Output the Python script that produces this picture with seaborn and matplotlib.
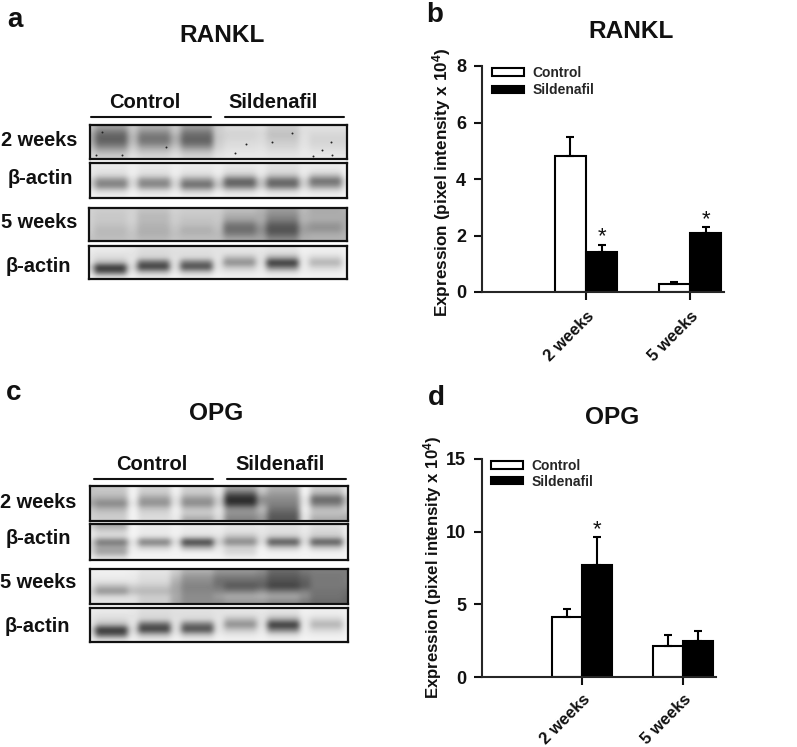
import matplotlib
matplotlib.use('Agg')
import matplotlib.pyplot as plt
from matplotlib.lines import Line2D
import numpy as np
import pandas as pd
import seaborn as sns

W, H = 797, 747

sns.set_style('ticks')
plt.rcParams['font.family'] = ['Liberation Sans', 'DejaVu Sans']
plt.rcParams['font.weight'] = 'bold'
plt.rcParams['mathtext.fontset'] = 'custom'
plt.rcParams['mathtext.bf'] = 'Liberation Sans:bold'

weeks = ['2 weeks', '5 weeks']
groups = ['Control', 'Sildenafil']

# bar heights and upper error
rankl_control = [4.83, 0.30]
rankl_sildenafil = [1.40, 2.10]
rankl_control_err = [0.67, 0.06]
rankl_sildenafil_err = [0.28, 0.20]
rankl_stars = [[False, False], [True, True]]

opg_control = [4.10, 2.10]
opg_sildenafil = [7.70, 2.50]
opg_control_err = [0.60, 0.80]
opg_sildenafil_err = [1.95, 0.65]
opg_stars = [[False, False], [True, False]]

# blots: grey levels read by eye, rows top to bottom,
# columns are edge, lane, gap, lane ... edge
rankl_2w = [
    [195, 160, 200, 175, 200, 155, 205, 220, 225, 205, 225, 225, 225],
    [175, 115, 190, 140, 190, 120, 205, 212, 215, 195, 222, 218, 218],
    [165, 95, 180, 115, 170, 100, 200, 212, 218, 195, 225, 212, 212],
    [170, 100, 185, 120, 175, 100, 205, 218, 220, 205, 225, 212, 212],
    [185, 135, 200, 160, 195, 140, 210, 222, 225, 212, 228, 218, 218],
    [205, 180, 215, 195, 215, 190, 220, 228, 230, 222, 232, 226, 226],
    [215, 205, 225, 215, 225, 212, 228, 232, 232, 230, 232, 232, 232],
]
rankl_actin_2w = [
    [235, 232, 238, 232, 238, 235, 238, 232, 235, 225, 235, 235, 240],
    [232, 228, 238, 228, 238, 230, 238, 226, 235, 222, 235, 230, 240],
    [230, 215, 235, 215, 235, 215, 232, 195, 228, 195, 230, 190, 238],
    [205, 140, 215, 140, 215, 140, 205, 95, 195, 105, 205, 105, 220],
    [205, 125, 215, 130, 210, 100, 190, 105, 190, 100, 205, 140, 225],
    [232, 210, 236, 215, 232, 195, 230, 208, 230, 208, 232, 220, 238],
    [242, 238, 244, 238, 242, 238, 242, 238, 242, 238, 242, 240, 244],
]
rankl_5w = [
    [210, 205, 210, 195, 210, 205, 205, 190, 180, 155, 185, 170, 178],
    [208, 200, 210, 185, 205, 200, 200, 175, 172, 140, 180, 172, 172],
    [208, 200, 210, 185, 205, 195, 200, 160, 172, 125, 180, 172, 172],
    [205, 195, 205, 180, 200, 190, 195, 120, 155, 95, 165, 150, 172],
    [205, 185, 200, 175, 195, 175, 190, 105, 140, 80, 155, 145, 172],
    [200, 185, 195, 175, 190, 180, 185, 125, 150, 95, 165, 170, 178],
    [195, 190, 195, 185, 195, 190, 190, 165, 165, 135, 175, 178, 182],
]
actin_5w = [
    [238, 235, 232, 222, 225, 225, 228, 230, 232, 228, 240, 238, 242],
    [232, 228, 228, 218, 222, 222, 226, 225, 228, 222, 238, 236, 240],
    [230, 218, 228, 210, 225, 215, 228, 185, 225, 165, 232, 210, 238],
    [228, 185, 225, 100, 222, 115, 225, 135, 222, 45, 232, 175, 236],
    [205, 45, 212, 55, 220, 70, 226, 195, 230, 120, 234, 212, 238],
    [222, 90, 226, 180, 230, 190, 234, 230, 236, 218, 238, 236, 240],
    [238, 228, 240, 236, 242, 238, 242, 240, 242, 240, 244, 242, 246],
]
opg_2w = [
    [195, 200, 240, 210, 240, 208, 232, 165, 205, 175, 242, 205, 230],
    [195, 195, 242, 200, 238, 200, 228, 95, 185, 155, 242, 180, 225],
    [180, 170, 238, 160, 225, 155, 205, 40, 140, 140, 228, 100, 185],
    [160, 130, 228, 140, 222, 135, 200, 50, 150, 130, 228, 120, 190],
    [195, 175, 240, 195, 238, 190, 225, 140, 185, 115, 238, 185, 210],
    [205, 200, 242, 215, 238, 205, 225, 150, 170, 95, 232, 195, 190],
    [210, 205, 242, 220, 232, 170, 212, 130, 150, 85, 225, 170, 170],
]
opg_actin_2w = [
    [205, 170, 242, 232, 238, 232, 235, 228, 230, 222, 232, 222, 236],
    [232, 215, 244, 236, 242, 235, 236, 225, 230, 225, 232, 215, 236],
    [230, 218, 242, 225, 236, 215, 225, 190, 222, 200, 225, 200, 232],
    [205, 105, 222, 110, 215, 45, 200, 125, 215, 65, 215, 70, 225],
    [210, 170, 235, 205, 235, 170, 230, 210, 238, 195, 235, 195, 235],
    [212, 155, 240, 240, 244, 240, 238, 212, 244, 240, 244, 240, 244],
    [238, 225, 245, 245, 245, 245, 244, 240, 245, 244, 245, 244, 245],
]
opg_5w = [
    [238, 240, 238, 228, 205, 175, 150, 150, 140, 105, 120, 125, 125],
    [236, 236, 234, 222, 190, 150, 125, 125, 120, 90, 105, 120, 125],
    [230, 228, 230, 218, 175, 140, 110, 105, 105, 80, 95, 120, 125],
    [222, 185, 205, 200, 165, 130, 115, 85, 95, 65, 90, 120, 120],
    [205, 140, 185, 180, 165, 135, 135, 130, 145, 125, 130, 115, 110],
    [222, 218, 222, 205, 170, 140, 160, 175, 180, 170, 145, 115, 105],
    [230, 228, 225, 205, 165, 140, 140, 150, 150, 135, 120, 105, 100],
]

# dust specks on the RANKL 2 weeks membrane, in lane and row units
speck_x = [0.55, 0.26, 1.48, 3.54, 7.29, 8.49, 9.43, 6.78, 11.27, 10.83, 11.3, 10.41]
speck_y = [0.86, 5.6, 5.6, 4.12, 3.37, 3.1, 1.2, 5.28, 3.03, 4.73, 5.6, 5.96]

blots_a = [rankl_2w, rankl_actin_2w, rankl_5w, actin_5w]
blots_c = [opg_2w, opg_actin_2w, opg_5w, actin_5w]
boxes_a = [(90, 125, 347, 159), (90, 163, 347, 198), (89, 208, 347, 241), (89, 246, 347, 279)]
boxes_c = [(90, 486, 348, 521), (90, 524, 348, 560), (90, 569, 348, 604), (90, 608, 348, 642)]
row_labels = ['2 weeks', 'β-actin', '5 weeks', 'β-actin']

# lanes are about three times as wide as the gaps between them
col_repeat = [1, 6, 2, 6, 2, 6, 2, 6, 2, 6, 2, 6, 1]

fig = plt.figure(figsize=(W / 100, H / 100), dpi=100, facecolor='white')


def px_axes(x0, y0, x1, y1):
    return fig.add_axes([x0 / W, 1 - y1 / H, (x1 - x0) / W, (y1 - y0) / H])


def px_text(x, y, s, size, **kw):
    fig.text(x / W, 1 - y / H, s, fontsize=size, fontweight='bold', color='#111111',
             ha=kw.pop('ha', 'center'), va=kw.pop('va', 'center'), **kw)


def px_line(x0, x1, y):
    fig.add_artist(Line2D([x0 / W, x1 / W], [1 - y / H, 1 - y / H], color='#111111', lw=1.5))


def draw_blot(box, grid):
    ax = px_axes(*box)
    wide = np.repeat(np.array(grid), col_repeat, axis=1)
    ax.imshow(wide, cmap='gray', vmin=0, vmax=255, aspect='auto', interpolation='bicubic',
              extent=(0, 12, len(grid) - 0.5, -0.5))
    ax.set_xlim(0, 12)
    ax.set_ylim(len(grid) - 0.5, -0.5)
    ax.set_xticks([])
    ax.set_yticks([])
    for s in ax.spines.values():
        s.set_linewidth(1.6)
        s.set_color('#111111')
    return ax


def draw_bars(box, control, sildenafil, control_err, sildenafil_err, stars, ymax, yticks,
              xlim, star_pad, legend_anchor, legend_gap, xpad):
    ax = px_axes(*box)
    df = pd.DataFrame({
        'week': weeks * 2,
        'group': [groups[0]] * 2 + [groups[1]] * 2,
        'value': control + sildenafil,
    })
    sns.barplot(data=df, x='week', y='value', hue='group', order=weeks, hue_order=groups,
                palette={'Control': 'white', 'Sildenafil': 'black'}, edgecolor='black',
                linewidth=1.5, width=0.6, gap=0, errorbar=None, ax=ax)
    errs = [control_err, sildenafil_err]
    for cont, err, flags in zip(ax.containers, errs, stars):
        for bar, e, flag in zip(cont, err, flags):
            cx = bar.get_x() + bar.get_width() / 2
            top = bar.get_height()
            ax.errorbar([cx], [top], yerr=[[0], [e]], color='black', elinewidth=1.5,
                        capsize=2.8, capthick=1.5, zorder=1)
            if flag:
                ax.text(cx, top + e + star_pad, '*', ha='center', va='center',
                        fontsize=16, fontweight='normal', color='#111111')
    ax.set_xlim(*xlim)
    ax.set_ylim(0, ymax)
    ax.set_yticks(yticks)
    ax.set_xlabel('')
    ax.set_ylabel('')
    ax.tick_params(axis='both', length=5.5, width=1.5, color='#111111', labelcolor='#111111')
    ax.tick_params(axis='y', labelsize=13, pad=6)
    ax.tick_params(axis='x', labelsize=12, pad=xpad)
    for lab in ax.get_xticklabels():
        lab.set_rotation(45)
        lab.set_ha('right')
        lab.set_rotation_mode('anchor')
    for lab in ax.get_xticklabels() + ax.get_yticklabels():
        lab.set_fontweight('bold')
    sns.despine(ax=ax)
    ax.spines['left'].set_linewidth(1.5)
    ax.spines['bottom'].set_linewidth(1.5)
    ax.patch.set_alpha(0)
    handles, labels = ax.get_legend_handles_labels()
    ax.legend(handles, labels, loc='upper left', bbox_to_anchor=legend_anchor, frameon=False,
              fontsize=10, handlelength=2.3, handleheight=0.42, labelspacing=legend_gap,
              handletextpad=0.6, borderpad=0, borderaxespad=0)


# blots
for box, grid in zip(boxes_a + boxes_c, blots_a + blots_c):
    blot_ax = draw_blot(box, grid)
    if grid is rankl_2w:
        blot_ax.scatter(speck_x, speck_y, s=2, color='#222222', linewidths=0)

for lab, x, y in zip(row_labels * 2, [39, 40, 39, 38, 38, 38, 38, 37],
                     [141, 178, 223, 266, 502, 539, 583, 627]):
    px_text(x, y, lab, 14.4)

px_text(145, 102, 'Control', 14.5)
px_text(273, 102, 'Sildenafil', 14.5)
px_line(91, 211, 117)
px_line(225, 344, 117)
px_text(152, 465, 'Control', 14.5)
px_text(280, 465, 'Sildenafil', 14.5)
px_line(94, 213, 479)
px_line(227, 346, 479)

# bar panels
draw_bars((482, 66, 724, 292), rankl_control, rankl_sildenafil, rankl_control_err,
          rankl_sildenafil_err, rankl_stars, 8, [0, 2, 4, 6, 8], (-1, 1.327), 0.27,
          (0.043, 1.0), 0.24, 6.5)
draw_bars((482, 459, 716, 677), opg_control, opg_sildenafil, opg_control_err,
          opg_sildenafil_err, opg_stars, 15, [0, 5, 10, 15], (-0.99, 1.327), 0.5,
          (0.038, 1.0), 0.13, 5)

ylab = 'Expression (pixel intensity x $\\mathbf{10^4}$)'
px_text(442, 182, ylab, 12.3, rotation=90)
px_text(433, 567, ylab, 12.1, rotation=90)

# titles and panel letters
px_text(222, 35, 'RANKL', 17.6)
px_text(631, 32, 'RANKL', 17.6)
px_text(216, 414, 'OPG', 17.6)
px_text(612, 418, 'OPG', 17.6)
px_text(15, 20, 'a', 20)
px_text(435, 15, 'b', 20)
px_text(14, 393, 'c', 20)
px_text(436, 398, 'd', 20)

fig.savefig('out.png', dpi=100)
